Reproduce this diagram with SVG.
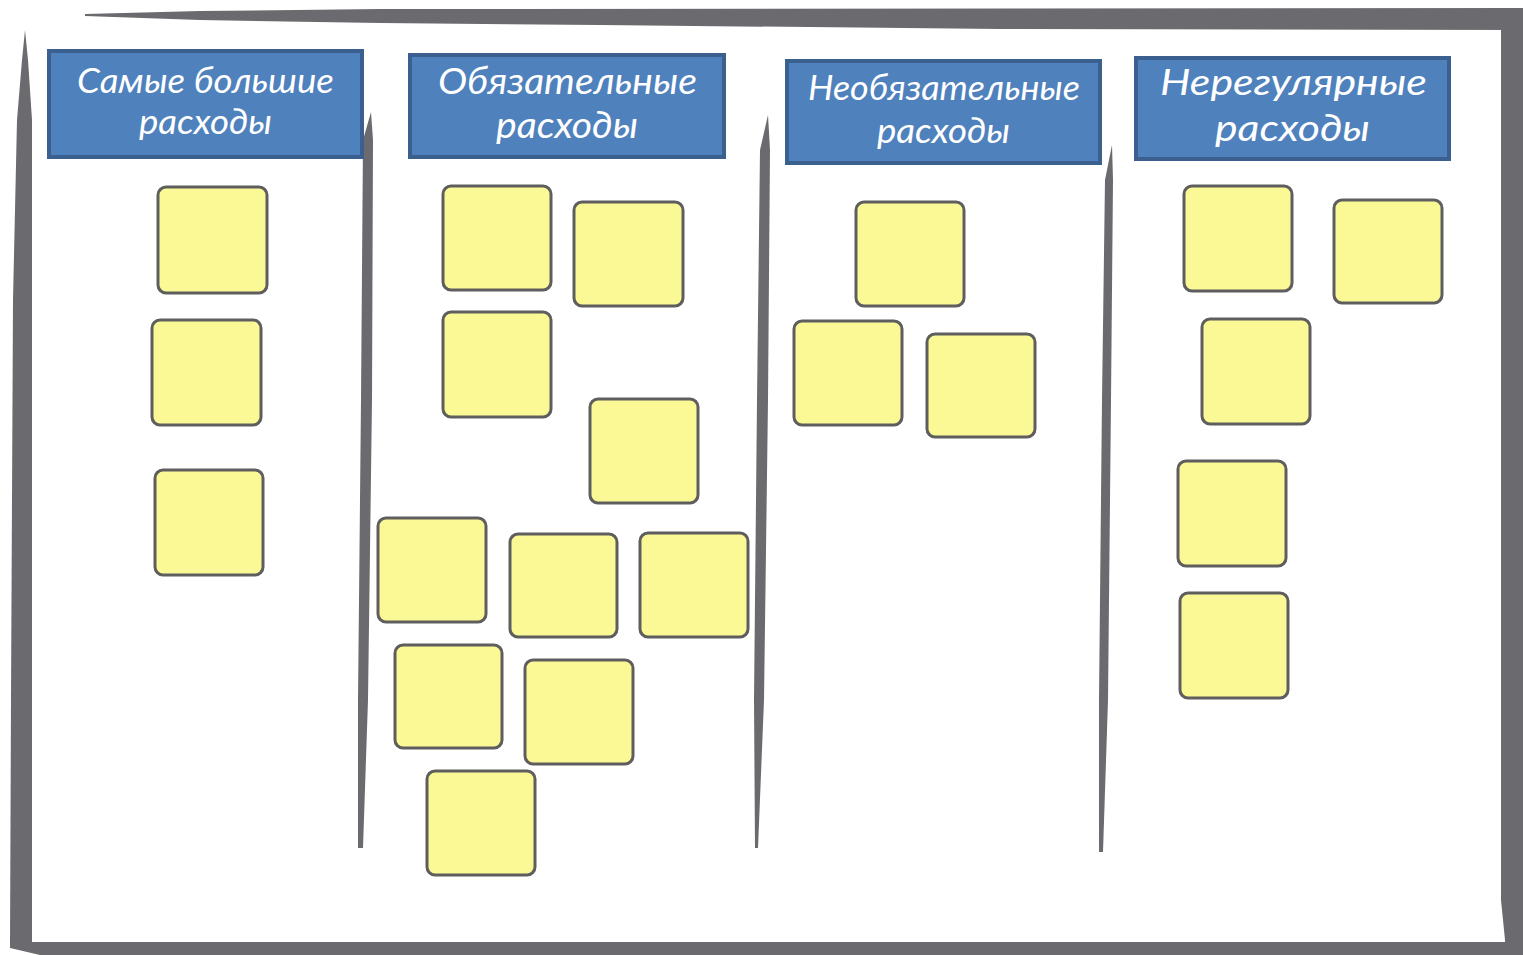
<svg xmlns="http://www.w3.org/2000/svg" width="1523" height="955" viewBox="0 0 1523 955">
<style>
.frame{fill:#6b6b6f}
.hdr rect{fill:#4f81bd;stroke:#3b5f8e;stroke-width:4}
.hdr text{fill:#ffffff;font-family:"Lato","Open Sans","DejaVu Sans",sans-serif;font-style:italic;font-size:34px;text-anchor:start}
.note{fill:#fbf995;stroke:#5e5e5e;stroke-width:3}
</style>
<rect width="1523" height="955" fill="#ffffff"/>
<g id="frame">
<polygon class="frame" points="85,14 200,11 380,9 1523,8 1523,30 1000,29 600,25 380,23 200,20 85,16"/>
<polygon class="frame" points="25,30 28,60 32,120 32,945 10,945 11,700 13,300 17,120 22,60"/>
<polygon class="frame" points="1501,9 1523,9 1523,955 1505,955 1505,940 1501,900"/>
<polygon class="frame" points="10,942 1523,942 1523,955 40,955 10,948"/>
</g>
<g id="dividers">
<polygon class="frame" points="371,112 373,140 372,400 368,700 363,848 358,848 358,700 361,400 363,140"/>
<polygon class="frame" points="768,115 770,150 768,400 764,700 758,848 755,848 754,700 757,400 760,150"/>
<polygon class="frame" points="1112,145 1113,180 1111,400 1108,700 1103,852 1099,852 1099,700 1102,400 1105,180"/>
</g>
<g id="header1" class="hdr">
<rect x="49" y="51" width="313" height="106"/>
<text x="77" y="93" textLength="257" lengthAdjust="spacingAndGlyphs">Самые большие</text>
<text x="139" y="134" textLength="133" lengthAdjust="spacingAndGlyphs">расходы</text>
</g>
<g id="header2" class="hdr">
<rect x="410" y="55" width="314" height="102"/>
<text x="438" y="94" textLength="259" lengthAdjust="spacingAndGlyphs" style="font-size:36px">Обязательные</text>
<text x="496" y="138" textLength="142" lengthAdjust="spacingAndGlyphs" style="font-size:36px">расходы</text>
</g>
<g id="header3" class="hdr">
<rect x="787" y="61" width="313" height="102"/>
<text x="808" y="100" textLength="272" lengthAdjust="spacingAndGlyphs">Необязательные</text>
<text x="877" y="143" textLength="133" lengthAdjust="spacingAndGlyphs">расходы</text>
</g>
<g id="header4" class="hdr">
<rect x="1136" y="58" width="313" height="101"/>
<text x="1160" y="95" textLength="267" lengthAdjust="spacingAndGlyphs" style="font-size:37px">Нерегулярные</text>
<text x="1215" y="141" textLength="155" lengthAdjust="spacingAndGlyphs" style="font-size:37px">расходы</text>
</g>
<g id="notes-col1">
<rect class="note" x="158" y="187" width="109" height="106" rx="8"/>
<rect class="note" x="152" y="320" width="109" height="105" rx="8"/>
<rect class="note" x="155" y="470" width="108" height="105" rx="8"/>
</g>
<g id="notes-col2">
<rect class="note" x="443" y="186" width="108" height="104" rx="8"/>
<rect class="note" x="574" y="202" width="109" height="104" rx="8"/>
<rect class="note" x="443" y="312" width="108" height="105" rx="8"/>
<rect class="note" x="590" y="399" width="108" height="104" rx="8"/>
<rect class="note" x="378" y="518" width="108" height="104" rx="8"/>
<rect class="note" x="510" y="534" width="107" height="103" rx="8"/>
<rect class="note" x="640" y="533" width="108" height="104" rx="8"/>
<rect class="note" x="395" y="645" width="107" height="103" rx="8"/>
<rect class="note" x="525" y="660" width="108" height="104" rx="8"/>
<rect class="note" x="427" y="771" width="108" height="104" rx="8"/>
</g>
<g id="notes-col3">
<rect class="note" x="856" y="202" width="108" height="104" rx="8"/>
<rect class="note" x="794" y="321" width="108" height="104" rx="8"/>
<rect class="note" x="927" y="334" width="108" height="103" rx="8"/>
</g>
<g id="notes-col4">
<rect class="note" x="1184" y="186" width="108" height="105" rx="8"/>
<rect class="note" x="1334" y="200" width="108" height="103" rx="8"/>
<rect class="note" x="1202" y="319" width="108" height="105" rx="8"/>
<rect class="note" x="1178" y="461" width="108" height="105" rx="8"/>
<rect class="note" x="1180" y="593" width="108" height="105" rx="8"/>
</g>
</svg>
